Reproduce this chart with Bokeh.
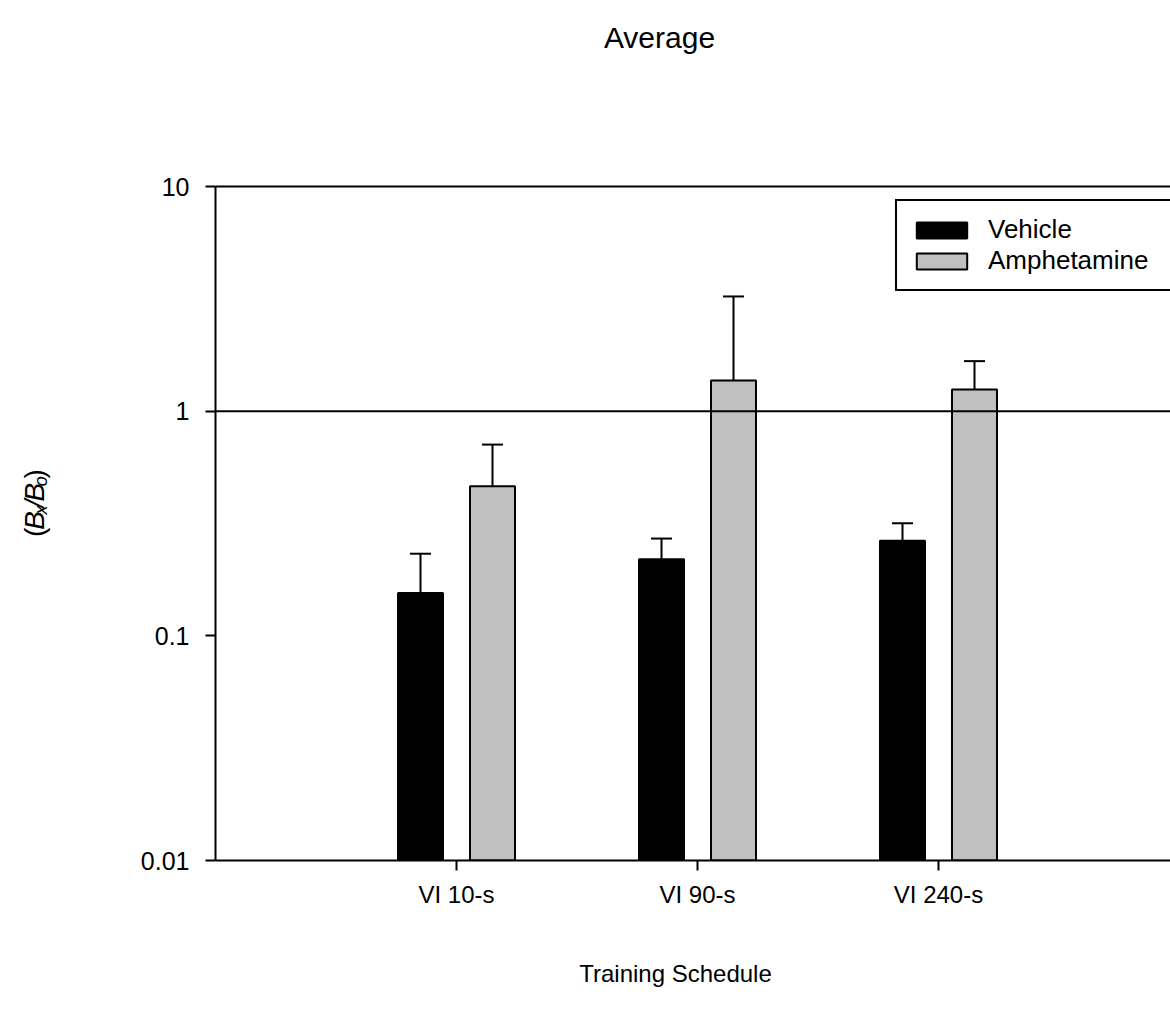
import numpy as np
from bokeh.plotting import figure
from bokeh.models import (FixedTicker, CustomJSTickFormatter, Span,
                          Legend, LegendItem, Range1d, LinearAxis)
from bokeh.layouts import column, row
from bokeh.core.properties import value
from bokeh.embed import file_html
from bokeh.resources import INLINE

# ---- data ----
schedules = ["VI 10-s", "VI 90-s", "VI 240-s"]
vehicle = [0.155, 0.219, 0.265]
vehicle_upper = [0.232, 0.271, 0.317]
amphetamine = [0.463, 1.37, 1.25]
amphetamine_upper = [0.710, 3.24, 1.67]
y_ticks = [0.01, 0.1, 1, 10]
series_labels = ["Vehicle", "Amphetamine"]
title_text = "Average"
x_label_text = "Training Schedule"

FONT = "Liberation Sans"

# ---- page layout (page pixels) ----
PAGE_W, PAGE_H = 1170, 1018
TITLE_H = 60          # title strip: page y 0..60
YLAB_W = 60           # y-label strip: page x 0..60
XLAB_H = 88           # x-label strip at bottom
MAIN_H = PAGE_H - TITLE_H - XLAB_H
FRAME_L, FRAME_T, FRAME_B = 215, 186, 860


def strip(width, height):
    f = figure(width=width, height=height, x_range=Range1d(0, width),
               y_range=Range1d(0, height), min_border=0,
               x_axis_location=None, y_axis_location=None,
               outline_line_color=None, output_backend="svg",
               toolbar_location=None)
    f.xgrid.visible = False
    f.ygrid.visible = False
    f.background_fill_color = "white"
    f.border_fill_color = "white"
    return f


# title strip
title_fig = strip(PAGE_W, TITLE_H)
title_fig.text(x=[659], y=[TITLE_H - 37], text=[title_text], text_font=value(FONT),
               text_font_size="30px", text_color="black", text_align="center",
               text_baseline="alphabetic")

# x-label strip
xlab_fig = strip(PAGE_W, XLAB_H)
xlab_fig.text(x=[675], y=[PAGE_H - 973], text=[x_label_text], text_font=value(FONT),
              text_font_size="24px", text_color="black", text_align="center",
              text_baseline="alphabetic")

# y-label strip: (B_x/B_o), rotated, built from pieces
ylab_fig = strip(YLAB_W, MAIN_H)
big, small = 28, 18
# (char, size, style, baseline shift, extra gap after)
pieces = [("(", big, "normal", 0, 0), ("B", big, "italic", 0, 1),
          ("x", small, "italic", 6, 0), ("/", big, "italic", 0, 0),
          ("B", big, "italic", 0, 1), ("o", small, "italic", 6, 0),
          (")", big, "normal", 0, 0)]
adv = {"(": 0.333, "B": 0.667, "x": 0.5, "/": 0.278, "o": 0.556, ")": 0.333}
total = sum(adv[c] * s + g for c, s, _, _, g in pieces)
cy = 470
yy = cy + total / 2       # page y of start (bottom) of the label
base_x = 34
strip_bottom_page_y = TITLE_H + MAIN_H
for c, s, st, dx, g in pieces:
    ylab_fig.text(x=[base_x + dx], y=[strip_bottom_page_y - yy], text=[c],
                  angle=np.pi / 2, text_font=value(FONT), text_font_size=f"{s}px",
                  text_font_style=st, text_color="black", text_align="left",
                  text_baseline="alphabetic")
    yy -= adv[c] * s + g

# ---- main plot ----
MAIN_W = PAGE_W - YLAB_W
LEFT = FRAME_L - YLAB_W
TOP = FRAME_T - TITLE_H
BOTTOM = TITLE_H + MAIN_H - FRAME_B
frame_w = MAIN_W - LEFT
px_per_unit = 241.0
x_end = frame_w / px_per_unit

p = figure(width=MAIN_W, height=MAIN_H, y_axis_type="log",
           x_range=Range1d(0, x_end), y_range=Range1d(0.01, 10),
           min_border_left=LEFT, min_border_right=0, min_border_top=TOP,
           min_border_bottom=BOTTOM, outline_line_color=None,
           output_backend="svg", toolbar_location=None)
p.background_fill_color = "white"
p.border_fill_color = "white"
p.xgrid.visible = False
p.ygrid.visible = False

pos = np.arange(1, len(schedules) + 1, dtype=float)
off = 36 / px_per_unit
bw = 45 / px_per_unit
cap = 10.5 / px_per_unit

r_veh = p.vbar(x=pos - off, top=vehicle, bottom=0.01, width=bw,
               fill_color="black", line_color="black", line_width=2)
r_amp = p.vbar(x=pos + off, top=amphetamine, bottom=0.01, width=bw,
               fill_color="#c0c0c0", line_color="black", line_width=2)

for xs, tops, ups in ((pos - off, vehicle, vehicle_upper),
                      (pos + off, amphetamine, amphetamine_upper)):
    p.segment(x0=xs, y0=tops, x1=xs, y1=ups, line_color="black", line_width=2)
    p.segment(x0=xs - cap, y0=ups, x1=xs + cap, y1=ups,
              line_color="black", line_width=2)

p.add_layout(Span(location=1, dimension="width", line_color="black", line_width=2))

xa = p.below[0]
ya = p.left[0]
for ax in (xa, ya):
    ax.axis_line_width = 2
    ax.axis_line_color = "black"
    ax.major_tick_line_width = 2
    ax.major_tick_line_color = "black"
    ax.major_tick_out = 10
    ax.major_tick_in = 0
    ax.minor_tick_line_color = None
    ax.major_label_text_font = FONT
    ax.major_label_text_color = "black"

ya.major_label_text_font_size = "25px"
ya.ticker = FixedTicker(ticks=y_ticks)
ya.formatter = CustomJSTickFormatter(code="return tick.toString();")
ya.major_label_standoff = 16

xa.major_label_text_font_size = "24px"
xa.ticker = FixedTicker(ticks=list(pos))
xa.major_label_overrides = {float(i + 1): s for i, s in enumerate(schedules)}
xa.major_label_standoff = 10

# top line: an axis with only its line
top_axis = LinearAxis(ticker=FixedTicker(ticks=[]), axis_line_width=2,
                      axis_line_color="black", major_tick_line_color=None,
                      minor_tick_line_color=None, major_label_standoff=0)
p.add_layout(top_axis, "above")

# legend
legend = Legend(items=[LegendItem(label=series_labels[0], renderers=[r_veh]),
                       LegendItem(label=series_labels[1], renderers=[r_amp])],
                location=(680, 569), margin=0, padding=13, spacing=0,
                glyph_width=63, glyph_height=20, label_standoff=15,
                label_width=200,
                label_text_font=FONT, label_text_font_size="26px",
                label_text_color="black",
                border_line_color="black", border_line_width=2,
                border_line_alpha=1.0,
                background_fill_color="white", background_fill_alpha=1)
p.add_layout(legend)

layout = column(title_fig, row(ylab_fig, p), xlab_fig)
open("out.html", "w").write(file_html(layout, INLINE))
